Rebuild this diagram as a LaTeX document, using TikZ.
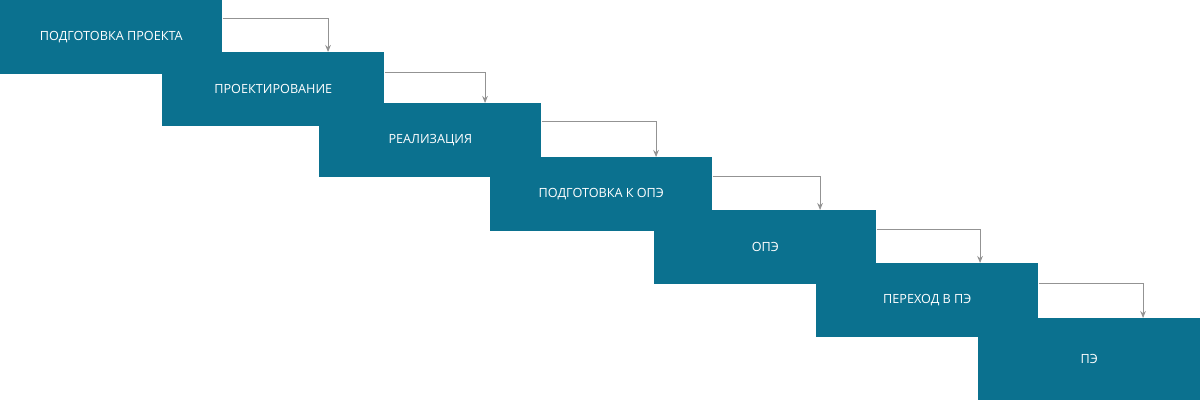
\documentclass[tikz,border=0pt]{standalone}
\usepackage{fontspec}
\setmainfont{Open Sans}
\usetikzlibrary{arrows.meta}

\begin{document}
\begin{tikzpicture}[x=0.025cm,y=-0.025cm,>={Stealth[length=5pt,width=4pt]},
  stage/.style={rectangle,fill=stagecol,text=white,anchor=north west,minimum width=5.55cm,minimum height=1.85cm,inner sep=0pt,font=\small},
  flow/.style={draw=gray!85,line width=0.6pt,->}]
\definecolor{stagecol}{HTML}{0B718F}
\useasboundingbox (0,0) rectangle (1200,400);
\node[stage] (prep) at (0,0) {ПОДГОТОВКА ПРОЕКТА};
\node[stage] (design) at (162,52) {ПРОЕКТИРОВАНИЕ};
\node[stage] (impl) at (319,103) {РЕАЛИЗАЦИЯ};
\node[stage] (preope) at (490,157) {ПОДГОТОВКА К ОПЭ};
\node[stage] (ope) at (654,210) {ОПЭ};
\node[stage] (trans) at (816,263) {ПЕРЕХОД В ПЭ};
\node[stage,minimum height=2.05cm] (pe) at (978,318) {ПЭ};

\draw[flow] ([yshift=-0.45cm]prep.north east) -| ([xshift=4.15cm]design.north west);
\draw[flow] ([yshift=-0.5cm]design.north east) -| ([xshift=4.15cm]impl.north west);
\draw[flow] ([yshift=-0.45cm]impl.north east) -| ([xshift=4.15cm]preope.north west);
\draw[flow] ([yshift=-0.48cm]preope.north east) -| ([xshift=4.15cm]ope.north west);
\draw[flow] ([yshift=-0.48cm]ope.north east) -| ([xshift=4.1cm]trans.north west);
\draw[flow] ([yshift=-0.5cm]trans.north east) -| ([xshift=4.125cm]pe.north west);

\end{tikzpicture}
\end{document}
